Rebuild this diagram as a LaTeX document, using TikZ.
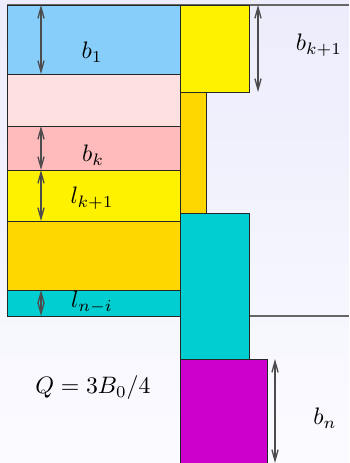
\documentclass[tikz,border=0pt]{standalone}
\usetikzlibrary{positioning,arrows.meta}

\definecolor{bgtop}{RGB}{236,236,252}
\definecolor{bgbot}{RGB}{251,251,255}
\definecolor{skyblk}{HTML}{87CEFA}
\definecolor{palepink}{HTML}{FFE0E0}
\definecolor{rosepink}{HTML}{FFBBBB}
\definecolor{goldblk}{HTML}{FFD700}
\definecolor{cyanblk}{HTML}{00CED1}
\definecolor{magblk}{HTML}{CC00CC}

\begin{document}
\begin{tikzpicture}[x=0.42pt,y=-0.42pt,
  blk/.style={draw=black!85, line width=0.4pt},
  dim/.style={<->, >={Straight Barb[length=4.6pt,width=2.6pt]}, draw=black!70, line width=0.55pt},
  level/.style={draw=black!60, line width=0.6pt}]

% Background
\shade[top color=bgtop, bottom color=bgbot] (0,0) rectangle (349,463);
\useasboundingbox (0,0) rectangle (349,463);

% Levels
\draw[level] (7,5) -- (349,5);
\draw[level] (7,316) -- (349,316);

% Left stack
\filldraw[blk, fill=skyblk] (7,5) rectangle (180,74);
\filldraw[blk, fill=palepink] (7,74) rectangle (180,126);
\filldraw[blk, fill=rosepink] (7,126) rectangle (180,170);
\filldraw[blk, fill=yellow] (7,170) rectangle (180,221);
\filldraw[blk, fill=goldblk] (7,221) rectangle (180,290);
\filldraw[blk, fill=cyanblk] (7,290) rectangle (180,316);

% Right stack
\filldraw[blk, fill=yellow] (180,5) rectangle (249,92);
\filldraw[blk, fill=goldblk] (180,92) rectangle (206,213);
\filldraw[blk, fill=cyanblk] (180,213) rectangle (249,359);
\filldraw[blk, fill=magblk] (180,359) rectangle (267,464);

% Dimension ends
\coordinate (b1top) at (41,5);
\coordinate (b1bot) at (41,74);
\coordinate (bktop) at (41,126);
\coordinate (bkbot) at (41,170);
\coordinate (lktop) at (41,170);
\coordinate (lkbot) at (41,221);
\coordinate (lntop) at (41,290);
\coordinate (lnbot) at (41,316);
\coordinate (bkrtop) at (258,5);
\coordinate (bkrbot) at (258,92);
\coordinate (bntop) at (275,359);
\coordinate (bnbot) at (275,463);

\draw[dim] (b1top) -- (b1bot);
\draw[dim] (bktop) -- (bkbot);
\draw[dim] (lktop) -- (lkbot);
\draw[dim] (lntop) -- (lnbot);
\draw[dim] (bkrtop) -- (bkrbot);
\draw[dim] (bntop) -- (bnbot);

% Labels
\node (lbone) at (92,52) {$b_1$};
\node (lbk) at (93,155) {$b_k$};
\node (llk) at (92,198) {$l_{k+1}$};
\node (lln) at (92,302) {$l_{n-i}$};
\node (lbkr) at (319,45) {$b_{k+1}$};
\node (lq) at (93,388) {$Q=3B_0/4$};
\node (lbn) at (325,418) {$b_n$};

\end{tikzpicture}
\end{document}
